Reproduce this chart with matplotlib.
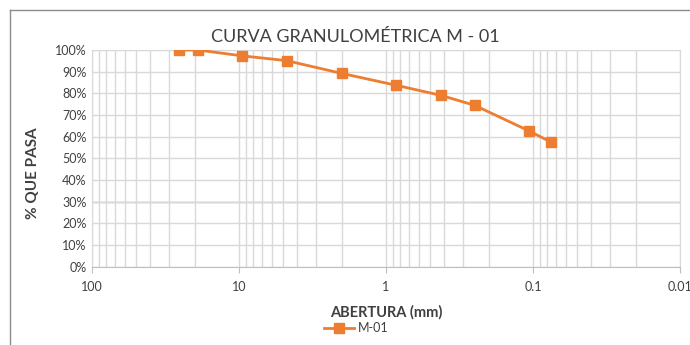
import matplotlib
matplotlib.use("Agg")
import matplotlib.pyplot as plt
from matplotlib.lines import Line2D
from matplotlib.ticker import FixedLocator, LogLocator, NullFormatter, PercentFormatter

plt.rcParams["font.family"] = ["Lato", "DejaVu Sans"]

# sieve openings (mm) and percent passing
abertura = [25.4, 19.05, 9.525, 4.75, 2.0, 0.85, 0.425, 0.25, 0.106, 0.075]
pasa = [100.0, 100.0, 97.3, 95.1, 89.2, 83.7, 79.1, 74.5, 62.6, 57.4]
x_ticks = [100, 10, 1, 0.1, 0.01]
x_tick_labels = ["100", "10", "1", "0.1", "0.01"]

ORANGE = "#ED7D31"
GRID = "#d9d9d9"
TEXT = "#404040"

fig = plt.figure(figsize=(6.9, 3.45), dpi=100)
ax = fig.add_axes([92 / 690, 1 - 266.7 / 345, (680 - 92) / 690, (266.7 - 50) / 345])

ax.plot(abertura, pasa, color=ORANGE, linewidth=2, marker="s", markersize=7,
        markerfacecolor=ORANGE, markeredgecolor=ORANGE, zorder=3)

ax.set_xscale("log")
ax.set_xlim(100, 0.01)
ax.set_ylim(0, 100)

ax.xaxis.set_major_locator(FixedLocator(x_ticks))
ax.set_xticklabels(x_tick_labels)
ax.xaxis.set_minor_locator(LogLocator(base=10, subs=range(2, 10)))
ax.xaxis.set_minor_formatter(NullFormatter())
ax.set_yticks(range(0, 101, 10))
ax.yaxis.set_major_formatter(PercentFormatter(decimals=0))

ax.grid(True, which="both", axis="x", color=GRID, linewidth=1)
ax.grid(True, which="major", axis="y", color=GRID, linewidth=1)
ax.axhline(30, color="#a6a6a6", linewidth=1, zorder=1)

for side in ("top", "right", "left"):
    ax.spines[side].set_color(GRID)
ax.spines["bottom"].set_color("#bfbfbf")
ax.tick_params(axis="x", which="major", length=4, color="#bfbfbf", labelsize=9,
               labelcolor=TEXT, pad=6)
ax.tick_params(axis="x", which="minor", length=0)
ax.tick_params(axis="y", length=0, labelsize=9, labelcolor=TEXT, pad=4)

fig.text(355 / 690, 1 - 37 / 345, "CURVA GRANULOMÉTRICA M - 01", fontsize=13, color=TEXT,
         ha="center", va="center")
ax.set_xlabel("ABERTURA (mm)", fontsize=10.5, fontweight="bold", color=TEXT, labelpad=9)
ax.set_ylabel("% QUE PASA", fontsize=11, fontweight="bold", color=TEXT)
ax.yaxis.set_label_coords((40 - 92) / 588, (266.7 - 173) / 216.7)

handle = Line2D([], [], color=ORANGE, linewidth=2, marker="s", markersize=7)
fig.legend([handle], ["M-01"], loc="center", bbox_to_anchor=(356 / 690, 1 - 328 / 345),
           frameon=False, fontsize=9, handlelength=2.4, labelcolor=TEXT,
           handletextpad=0.3)

# outer chart frame (cropped at right/bottom)
fig.add_artist(Line2D([10 / 690, 10 / 690], [0, 1 - 10 / 345], color="#8c8c8c", linewidth=1,
                      transform=fig.transFigure))
fig.add_artist(Line2D([10 / 690, 1], [1 - 10 / 345, 1 - 10 / 345], color="#8c8c8c", linewidth=1,
                      transform=fig.transFigure))

fig.savefig("out.png", dpi=100, facecolor="white")
